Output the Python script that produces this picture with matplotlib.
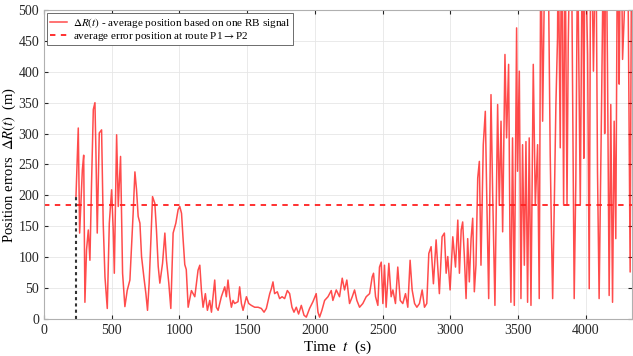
import matplotlib
matplotlib.use("Agg")
import matplotlib.pyplot as plt

# position error over time along the route
time_s = [236, 253, 263, 283, 293, 302, 314, 327, 339, 351, 364, 376, 383, 393, 408, 425, 437, 450, 467, 482,
          499, 511, 519, 536, 548, 565, 580, 597, 614, 634, 646, 658, 671, 683, 695, 708, 720, 737, 752, 764,
          776, 789, 801, 818, 830, 843, 855, 875, 892, 904, 921, 936, 953, 973, 990, 1002, 1015, 1027, 1039, 1050,
          1064, 1088, 1113, 1137, 1150, 1162, 1174, 1191, 1206, 1223, 1236, 1260, 1272, 1285, 1309, 1334, 1346, 1358, 1371, 1383,
          1395, 1407, 1432, 1444, 1457, 1469, 1494, 1511, 1530, 1555, 1580, 1604, 1624, 1641, 1666, 1678, 1690, 1702, 1722, 1739,
          1757, 1776, 1796, 1813, 1830, 1845, 1862, 1879, 1899, 1919, 1936, 1960, 1985, 2009, 2022, 2034, 2051, 2071, 2096, 2120,
          2132, 2157, 2181, 2201, 2218, 2235, 2255, 2275, 2292, 2309, 2329, 2353, 2378, 2403, 2422, 2432, 2447, 2464, 2476, 2489,
          2501, 2513, 2525, 2545, 2562, 2575, 2594, 2611, 2629, 2648, 2668, 2685, 2702, 2717, 2735, 2752, 2771, 2791, 2808, 2825,
          2840, 2857, 2874, 2894, 2906, 2918, 2938, 2955, 2968, 2980, 2997, 3017, 3037, 3054, 3066, 3079, 3090, 3103, 3115, 3127,
          3139, 3152, 3164, 3176, 3188, 3201, 3213, 3225, 3242, 3257, 3267, 3282, 3299, 3311, 3328, 3348, 3360, 3373, 3385, 3402,
          3414, 3429, 3439, 3446, 3458, 3471, 3488, 3495, 3508, 3520, 3532, 3545, 3557, 3569, 3581, 3594, 3611, 3626, 3643, 3655,
          3667, 3680, 3692, 3716, 3736, 3746, 3754, 3766, 3778, 3790, 3795, 3810, 3820, 3835, 3845, 3860, 3869, 3889, 3913, 3925,
          3938, 3958, 3975, 3984, 3992, 4012, 4024, 4036, 4055, 4073, 4085, 4097, 4115, 4129, 4138, 4146, 4159, 4171, 4183, 4196,
          4208, 4220, 4233, 4245, 4257, 4270, 4282, 4306, 4326, 4336]
error_m = [198, 309, 139, 241, 265, 27, 112, 144, 95, 220, 339, 350, 274, 139, 301, 306, 155, 68, 17, 155,
           209, 144, 74, 298, 182, 263, 74, 20, 46, 63, 117, 171, 238, 209, 166, 155, 101, 68, 41, 14,
           58, 128, 198, 187, 144, 85, 58, 90, 139, 95, 58, 17, 139, 155, 177, 182, 171, 128, 88, 80,
           19, 46, 36, 79, 87, 46, 19, 41, 14, 30, 11, 63, 19, 14, 36, 52, 36, 63, 36, 19,
           30, 25, 28, 52, 25, 14, 36, 25, 22, 19, 19, 17, 11, 17, 41, 49, 60, 41, 44, 33,
           36, 33, 46, 41, 19, 11, 19, 8, 22, 6, 3, 17, 28, 41, 11, 3, 14, 30, 36, 46,
           30, 47, 36, 66, 47, 63, 25, 36, 47, 30, 19, 25, 36, 41, 68, 74, 36, 22, 84, 92,
           25, 87, 19, 90, 36, 47, 25, 84, 30, 25, 41, 19, 95, 47, 25, 19, 25, 47, 19, 25,
           106, 117, 57, 128, 84, 41, 133, 139, 74, 101, 47, 133, 84, 160, 74, 144, 157, 98, 33, 130,
           60, 130, 163, 44, 87, 228, 255, 87, 282, 336, 206, 33, 363, 206, 22, 347, 184, 320, 141, 428,
           293, 412, 130, 27, 293, 22, 471, 239, 401, 33, 282, 87, 287, 27, 293, 22, 412, 184, 282, 33,
           640, 320, 520, 700, 266, 130, 33, 184, 347, 455, 620, 277, 680, 184, 650, 184, 444, 720, 33, 222,
           610, 184, 690, 260, 650, 428, 49, 700, 401, 640, 239, 33, 347, 620, 300, 700, 401, 38, 347, 27,
           320, 130, 660, 380, 700, 420, 490, 680, 76, 600]

mean_error = 184
start_time = 236
start_error = 198

plt.rcParams["font.family"] = ["Liberation Serif", "DejaVu Serif"]
plt.rcParams["mathtext.fontset"] = "stix"

fig = plt.figure(figsize=(6.33, 3.56), dpi=100)
ax = fig.add_axes([0.0695, 0.104, 0.929, 0.868])

ax.plot(time_s, error_m, color="#ff0000", lw=1.1, alpha=0.7,
        label=r"$\Delta R(t)$ - average position based on one RB signal")
ax.axhline(mean_error, color="#ff2020", ls=(0, (3, 3)), lw=1.3,
           label=r"average error position at route P1$\rightarrow$P2")
ax.plot([start_time, start_time], [0, start_error], color="#333333", ls=(0, (1.5, 1.5)), lw=1.5)

ax.set_xlim(0, 4340)
ax.set_ylim(0, 500)
ax.set_xticks(range(0, 4001, 500))
ax.set_yticks(range(0, 501, 50))
ax.grid(True, color="#e6e6e6", lw=0.6)
ax.set_axisbelow(True)
ax.tick_params(direction="in", top=True, right=True, length=3, labelsize=10, colors="#262626")
for s in ax.spines.values():
    s.set_color("#b0b0b0")
    s.set_linewidth(0.8)

ax.set_xlabel(r"Time  $t$  (s)", fontsize=11, labelpad=1)
ax.set_ylabel(r"Position errors  $\Delta R(t)$  (m)", fontsize=10.5, labelpad=0)

leg = ax.legend(loc="upper left", fontsize=8, fancybox=False, framealpha=1,
                borderaxespad=0.3, handlelength=1.6, handletextpad=0.5,
                borderpad=0.2, labelspacing=0.05)
leg.get_frame().set_edgecolor("#555555")
leg.get_frame().set_linewidth(0.6)

plt.savefig("out.png", dpi=100)
